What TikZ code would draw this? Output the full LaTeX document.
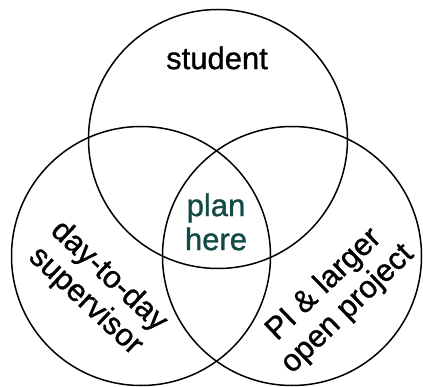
\documentclass[tikz,border=0pt]{standalone}
\usepackage{fontspec}
\setmainfont{Liberation Sans}[FakeBold=1]
\definecolor{planteal}{HTML}{124A45}
\begin{document}
\begin{tikzpicture}[x=1pt,y=-1pt,
  ring/.style={draw=black,line width=1.5pt},
  lbl/.style={font=\fontsize{31}{34}\selectfont,align=center,inner sep=0pt}]
\useasboundingbox (0,0) rectangle (423,387);
\draw[ring] (218,139) circle[radius=129.5];
\draw[ring] (141,256) circle[radius=129.5];
\draw[ring] (292,256) circle[radius=129.5];
\node[lbl] (student) at (217,58) {student};
\node[lbl,text=planteal] (plan) at (216,222) {plan\\here};
\node[lbl,rotate=-43] (sup) at (97,289) {day-to-day\\supervisor};
\node[lbl,rotate=44] (pi) at (336,297) {PI \& larger\\open project};
\end{tikzpicture}
\end{document}
